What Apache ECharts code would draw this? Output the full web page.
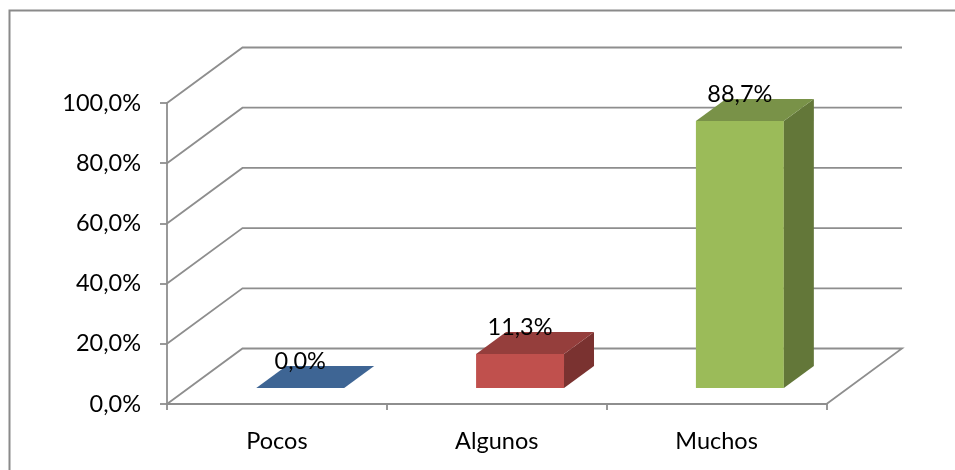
<!DOCTYPE html>
<html>
<head>
<meta charset="utf-8">
<style>html,body{margin:0;padding:0;background:#fff}#c{width:955px;height:470px}</style>
<script src="https://cdn.jsdelivr.net/npm/echarts@6/dist/echarts.min.js"></script>
</head>
<body>
<div id="c"></div>
<script>
const categories = ['Pocos', 'Algunos', 'Muchos'];
const values = [0.0, 11.3, 88.7];
const tickValues = [0, 20, 40, 60, 80, 100];
const frontColors = ['#4F81BD', '#C0504D', '#9BBB59'];
const topColors = ['#3E6594', '#953E3C', '#799248'];
const sideColors = ['#335278', '#7A3230', '#637739'];

const fmt = v => v.toFixed(1).replace('.', ',') + '%';
const FONT = 'Lato, Carlito, "Open Sans", sans-serif';
const FONT_SIZE = 23.5;
const LINE = '#8E8E8E';
const LINE_W = 1.8;
const WALL_DX = 75.5, WALL_DY = -55.5;
const BAR_DX = 23.3, BAR_DY = -16;
const DEPTH_DX = 30, DEPTH_DY = -22;

function renderWall(params, api) {
  const r = params.coordSys;
  const y = api.coord([0, api.value(0)])[1];
  const x0 = r.x, x1 = r.x + r.width;
  const pts = [[x0, y], [x0 + WALL_DX, y + WALL_DY], [x1 + WALL_DX, y + WALL_DY]];
  if (api.value(0) === 0) pts.push([x1, y]);
  return {
    type: 'polyline', silent: true,
    shape: { points: pts },
    style: { fill: 'none', stroke: LINE, lineWidth: LINE_W }
  };
}

function renderBar(params, api) {
  const i = params.dataIndex;
  const top = api.coord([api.value(0), api.value(1)]);
  const base = api.coord([api.value(0), 0]);
  const w = api.size([1, 0])[0] * 0.4;
  const xl = top[0] - w / 2 + BAR_DX, xr = xl + w;
  const yt = top[1] + BAR_DY, yb = base[1] + BAR_DY;
  const dx = DEPTH_DX, dy = DEPTH_DY;
  const children = [];
  if (yb - yt > 0.5) {
    children.push({ type: 'polygon', shape: { points: [[xl, yt], [xr, yt], [xr, yb], [xl, yb]] },
      style: { fill: frontColors[i] } });
    children.push({ type: 'polygon', shape: { points: [[xr, yt], [xr + dx, yt + dy], [xr + dx, yb + dy], [xr, yb]] },
      style: { fill: sideColors[i] } });
  }
  children.push({ type: 'polygon', shape: { points: [[xl, yt], [xr, yt], [xr + dx, yt + dy], [xl + dx, yt + dy]] },
    style: { fill: topColors[i] } });
  children.push({ type: 'text', z2: 10,
    style: { text: fmt(api.value(1)), x: (xl + xr) / 2, y: yt - 27, align: 'center', verticalAlign: 'middle',
      fill: '#000', font: FONT_SIZE + 'px ' + FONT } });
  return { type: 'group', children };
}

const chart = echarts.init(document.getElementById('c'), null, { renderer: 'canvas' });
chart.setOption({
  animation: false,
  backgroundColor: '#fff',
  grid: { left: 167, right: 128.5, top: 103, bottom: 66 },
  xAxis: {
    type: 'category', data: categories,
    axisLine: { show: true, lineStyle: { color: LINE, width: LINE_W } },
    axisTick: { show: true, alignWithLabel: false, length: 6, lineStyle: { color: LINE, width: LINE_W } },
    axisLabel: { color: '#000', fontFamily: FONT, fontSize: FONT_SIZE, margin: 25 }
  },
  yAxis: {
    type: 'value', min: 0, max: 100, interval: 20,
    axisLine: { show: true, lineStyle: { color: LINE, width: LINE_W } },
    axisTick: { show: true, length: 7, lineStyle: { color: LINE, width: LINE_W } },
    splitLine: { show: false },
    axisLabel: { color: '#000', fontFamily: FONT, fontSize: FONT_SIZE, margin: 26, formatter: fmt }
  },
  series: [
    { type: 'custom', name: 'wall', clip: false, silent: true, z: 1,
      data: tickValues.map(v => [v]), encode: { y: 0 }, renderItem: renderWall },
    { type: 'custom', name: 'barras', clip: false, z: 3,
      data: categories.map((c, i) => [i, values[i]]), encode: { x: 0, y: 1 }, renderItem: renderBar }
  ],
  graphic: [{
    type: 'polyline', silent: true,
    shape: { points: [[9.5, 470], [9.5, 10.5], [955, 10.5]] },
    style: { fill: 'none', stroke: '#8A8A8A', lineWidth: 2 }
  }]
});
</script>
</body>
</html>
